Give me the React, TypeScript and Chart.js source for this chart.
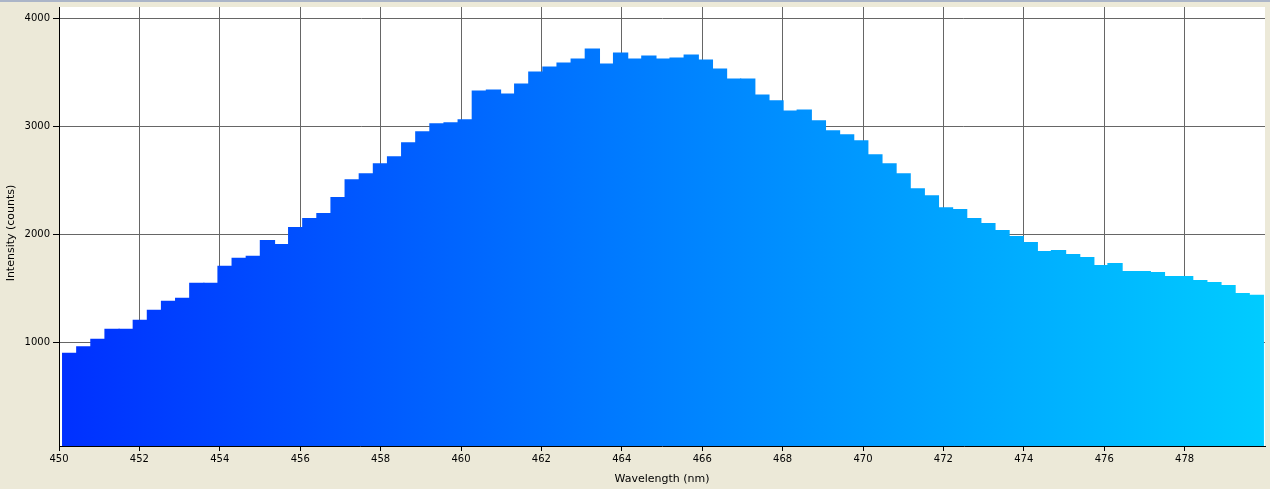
import React, { useEffect, useRef } from "react";
import { Chart, registerables } from "chart.js";

Chart.register(...registerables);

// Spectrometer bins: first bin starts at 450.09 nm, each bin 0.3514 nm wide
const wavelengthStart = 450.09;
const binWidth = 0.3514;

const intensity = [
  898, 957, 1028, 1120, 1120, 1204, 1297, 1380, 1408, 1547,
  1547, 1704, 1778, 1797, 1942, 1905, 2062, 2145, 2191, 2339,
  2505, 2561, 2653, 2718, 2848, 2950, 3024, 3033, 3060, 3327,
  3336, 3299, 3392, 3503, 3549, 3586, 3623, 3716, 3577, 3679,
  3623, 3651, 3623, 3632, 3660, 3614, 3531, 3438, 3438, 3290,
  3235, 3142, 3151, 3050, 2958, 2921, 2866, 2736, 2653, 2561,
  2422, 2357, 2246, 2228, 2145, 2099, 2034, 1979, 1923, 1840,
  1849, 1812, 1785, 1711, 1729, 1655, 1655, 1646, 1609, 1609,
  1572, 1554, 1526, 1452, 1434,
];

const xTicks = [450, 452, 454, 456, 458, 460, 462, 464, 466, 468, 470, 472, 474, 476, 478];
const yTicks = [1000, 2000, 3000, 4000];

const xMin = 450;
const xMax = 480;
const yMin = 40;
const yMax = 4105;

const xTitle = "Wavelength (nm)";
const yTitle = "Intensity (counts)";

const TICK_FONT = { family: "'DejaVu Sans', sans-serif", size: 10 };
const TITLE_FONT = { family: "'DejaVu Sans', sans-serif", size: 11 };

export default function App() {
  const canvasRef = useRef<HTMLCanvasElement | null>(null);

  useEffect(() => {
    const canvas = canvasRef.current;
    if (!canvas) return;

    const points = intensity.map((v, i) => ({
      x: wavelengthStart + (i + 0.5) * binWidth,
      y: v,
    }));

    const bgPlugin = {
      id: "bgPlugin",
      beforeDraw(chart: any) {
        const { ctx, chartArea } = chart;
        ctx.save();
        ctx.fillStyle = "#ABB5C8";
        ctx.fillRect(0, 0, chart.width, 2);
        if (chartArea) {
          ctx.fillStyle = "#FFFFFF";
          ctx.fillRect(
            chartArea.left,
            chartArea.top,
            chartArea.right - chartArea.left,
            chartArea.bottom - chartArea.top
          );
        }
        ctx.restore();
      },
      afterDraw(chart: any) {
        const { ctx } = chart;
        ctx.save();
        ctx.translate(11, 233);
        ctx.rotate(-Math.PI / 2);
        ctx.fillStyle = "#000000";
        ctx.font = `${TITLE_FONT.size}px ${TITLE_FONT.family}`;
        ctx.textAlign = "center";
        ctx.textBaseline = "middle";
        ctx.fillText(yTitle, 0, 0);
        ctx.restore();
      },
    };

    const chart = new Chart(canvas, {
      type: "bar",
      data: {
        datasets: [
          {
            data: points as any,
            backgroundColor: (c: any) => {
              const area = c.chart.chartArea;
              if (!area) return "#0077FF";
              const g = c.chart.ctx.createLinearGradient(area.left, 0, area.right, 0);
              g.addColorStop(0, "#0030FF");
              g.addColorStop(0.5, "#0080FF");
              g.addColorStop(1, "#00CCFF");
              return g;
            },
            borderWidth: 0,
            barPercentage: 1,
            categoryPercentage: 1,
            inflateAmount: 0.6,
          } as any,
        ],
      },
      options: {
        animation: false,
        responsive: false,
        maintainAspectRatio: false,
        layout: { padding: { top: 7, right: 5, left: 0, bottom: 0 } },
        plugins: {
          legend: { display: false },
          tooltip: { enabled: false },
        },
        scales: {
          x: {
            type: "linear",
            min: xMin,
            max: xMax,
            offset: false,
            grid: {
              offset: false,
              color: "#666666",
              tickColor: "#000000",
              tickLength: 5,
              lineWidth: 1,
            },
            border: { color: "#000000", width: 1 },
            ticks: {
              color: "#000000",
              font: TICK_FONT,
              padding: 2,
              maxRotation: 0,
              autoSkip: false,
              callback: (v: any) => String(v),
            },
            afterBuildTicks: (s: any) => {
              s.ticks = xTicks.map((v) => ({ value: v }));
            },
            afterFit: (s: any) => {
              s.height = 43;
              s.paddingLeft = 0;
              s.paddingRight = 0;
            },
            title: {
              display: true,
              text: xTitle,
              color: "#000000",
              font: TITLE_FONT,
              padding: { top: 0, bottom: 3 },
            },
          },
          y: {
            type: "linear",
            min: yMin,
            max: yMax,
            grid: {
              color: "#666666",
              tickColor: "#000000",
              tickLength: 6,
              lineWidth: 1,
            },
            border: { color: "#000000", width: 1 },
            ticks: {
              color: "#000000",
              font: TICK_FONT,
              padding: 3,
              callback: (v: any) => String(v),
            },
            afterBuildTicks: (s: any) => {
              s.ticks = yTicks.map((v) => ({ value: v }));
            },
            afterFit: (s: any) => {
              s.width = 59;
              s.paddingTop = 0;
              s.paddingBottom = 0;
            },
            title: { display: false },
          },
        },
      },
      plugins: [bgPlugin],
    });

    return () => {
      chart.destroy();
    };
  }, []);

  return (
    <div
      style={{
        position: "absolute",
        left: 0,
        top: 0,
        width: 1270,
        height: 489,
        background: "#ECE9D8",
        overflow: "hidden",
      }}
    >
      <canvas
        ref={canvasRef}
        width={1270}
        height={489}
        style={{ display: "block", width: 1270, height: 489 }}
      />
    </div>
  );
}
